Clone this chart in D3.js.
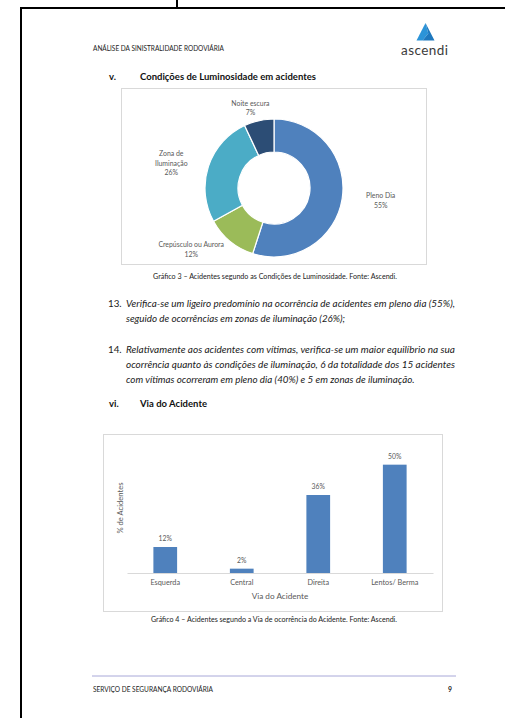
<!DOCTYPE html>
<html>
<head>
<meta charset="utf-8">
<script src="https://cdn.jsdelivr.net/npm/d3@7"></script>
<style>
  body { margin: 0; background: #fff; }
  svg { display: block; font-family: Lato, "Open Sans", sans-serif; }
</style>
</head>
<body>
<svg id="page"></svg>
<script>
// dados do gráfico 3 (luminosidade)
const pieLabels = ["Pleno Dia", "Crepúsculo ou Aurora", "Zona de Iluminação", "Noite escura"];
const pieValues = [55, 12, 26, 7];
const pieColors = ["#4F81BD", "#9BBB59", "#4BACC6", "#2C4D75"];
const pieLines = [["Pleno Dia", "55%"], ["Crepúsculo ou Aurora", "12%"], ["Zona de", "Iluminação", "26%"], ["Noite escura", "7%"]];

// dados do gráfico 4 (via do acidente)
const viaCategories = ["Esquerda", "Central", "Direita", "Lentos/ Berma"];
const viaValues = [12, 2, 36, 50];

const para13 = [
    "Verifica-se um ligeiro predomínio na ocorrência de acidentes em pleno dia (55%),",
    "seguido de ocorrências em zonas de iluminação (26%);"
];
const para14 = [
    "Relativamente aos acidentes com vítimas, verifica-se um maior equilíbrio na sua",
    "ocorrência quanto às condições de iluminação, 6 da totalidade dos 15 acidentes",
    "com vítimas ocorreram em pleno dia (40%) e 5 em zonas de iluminação."
];

const svg = d3.select('#page').attr('width', 505).attr('height', 718);

// moldura da página
svg.append('path')
    .attr('d', 'M177,0 V8 M505,8 H21 V718')
    .attr('fill', 'none')
    .attr('stroke', '#000')
    .attr('stroke-width', 2);

// texto pequeno com largura fixa (cabeçalho, legendas, rodapé)
function smallText(t, x, y, w, size, anchor) {
    return svg.append('text')
        .attr('x', x).attr('y', y)
        .attr('text-anchor', anchor || 'start')
        .attr('font-size', size).attr('fill', '#222')
        .attr('textLength', w).attr('lengthAdjust', 'spacingAndGlyphs')
        .text(t);
}

// cabeçalho
smallText('ANÁLISE DA SINISTRALIDADE RODOVIÁRIA', 93, 50.5, 131, 6.6);

const logo = svg.append('g');
logo.append('path').attr('d', 'M425.5,23 L416.5,40.5 L422.5,40.5 L428.3,33.5 Z').attr('fill', '#2C94D8');
logo.append('path').attr('d', 'M425.5,23 L428.3,33.5 L422.5,40.5 L434.5,40.5 Z').attr('fill', '#1E78BE');
logo.append('text')
    .attr('x', 401).attr('y', 55)
    .attr('font-size', 13.5).attr('fill', '#3B3B3B')
    .attr('textLength', 47)
    .text('ascendi');

// títulos de secção
function heading(num, title, y, w) {
    svg.append('text').attr('x', 109).attr('y', y)
        .attr('font-size', 9.5).attr('font-weight', 'bold').attr('fill', '#111')
        .text(num);
    svg.append('text').attr('x', 140).attr('y', y)
        .attr('font-size', 9.5).attr('font-weight', 'bold').attr('fill', '#111')
        .attr('textLength', w)
        .text(title);
}
heading('v.', 'Condições de Luminosidade em acidentes', 80, 176);
heading('vi.', 'Via do Acidente', 407, 67);

// ---------- Gráfico 3: donut ----------
svg.append('rect')
    .attr('x', 121.5).attr('y', 88.5).attr('width', 305).attr('height', 176)
    .attr('fill', '#fff').attr('stroke', '#D9D9D9');

const cx = 274, cy = 188, outerR = 69, innerR = 36;
const pieData = d3.pie().sort(null).value(d => d)(pieValues);
const arc = d3.arc().innerRadius(innerR).outerRadius(outerR);

const donut = svg.append('g').attr('transform', `translate(${cx}, ${cy})`);
donut.selectAll('path')
    .data(pieData)
    .enter()
    .append('path')
    .attr('d', arc)
    .attr('fill', (d, i) => pieColors[i])
    .attr('stroke', '#fff')
    .attr('stroke-width', 1.2);

// rótulos fora da coroa, numa elipse à volta do centro;
// se o rótulo tocar na coroa, é empurrado (para o lado ou para cima/baixo)
const labelRx = 108, labelRy = 80;
donut.selectAll('g.lbl')
    .data(pieData)
    .enter()
    .append('g')
    .attr('class', 'lbl')
    .each(function (d, i) {
        const a = (d.startAngle + d.endAngle) / 2;
        const x = labelRx * Math.sin(a);
        const y = -labelRy * Math.cos(a);
        const lines = pieLines[i];
        const lh = 9.5;
        const g = d3.select(this);
        g.selectAll('text')
            .data(lines)
            .enter()
            .append('text')
            .attr('x', x)
            .attr('y', (t, j) => y + (j - (lines.length - 1) / 2) * lh + 2.4)
            .attr('text-anchor', 'middle')
            .attr('font-size', 6.9)
            .attr('fill', '#595959')
            .text(t => t);

        const b = this.getBBox();
        const side = Math.abs(Math.sin(a)) > 0.5;
        const sx = side ? (Math.sin(a) >= 0 ? 1 : -1) : 0;
        const sy = side ? 0 : (Math.cos(a) >= 0 ? -1 : 1);
        let dx = 0, dy = 0;
        for (let k = 0; k < 60; k++) {
            const nx = Math.max(b.x + dx, Math.min(0, b.x + dx + b.width));
            const ny = Math.max(b.y + dy, Math.min(0, b.y + dy + b.height));
            if (Math.hypot(nx, ny) >= outerR + 3) break;
            dx += sx; dy += sy;
        }
        g.attr('transform', `translate(${dx}, ${dy})`);
    });

smallText('Gráfico 3 – Acidentes segundo as Condições de Luminosidade. Fonte: Ascendi.', 275, 279, 244, 6.8, 'middle');

// ---------- parágrafos ----------
function paragraph(num, lines, y0, fullLines) {
    svg.append('text').attr('x', 108).attr('y', y0)
        .attr('font-size', 9.8).attr('fill', '#1a1a1a')
        .text(num);
    lines.forEach((t, i) => {
        const tx = svg.append('text')
            .attr('x', 126).attr('y', y0 + i * 14.8)
            .attr('font-size', 9.8).attr('font-style', 'italic').attr('fill', '#1a1a1a')
            .text(t);
        if (i < fullLines) tx.attr('textLength', 329).attr('lengthAdjust', 'spacingAndGlyphs');
    });
}
paragraph('13.', para13, 307, 1);
paragraph('14.', para14, 353, 2);

// ---------- Gráfico 4: barras ----------
svg.append('rect')
    .attr('x', 103.5).attr('y', 434.5).attr('width', 339).attr('height', 177)
    .attr('fill', '#fff').attr('stroke', '#D9D9D9');

const plot = { left: 127, right: 433, top: 443, bottom: 573 };

const xscale = d3.scaleBand()
    .domain(viaCategories)
    .range([plot.left, plot.right])
    .paddingInner(0.69)
    .paddingOuter(0.345);

const yscale = d3.scaleLinear()
    .domain([0, 60])
    .range([plot.bottom, plot.top]);

const chart = svg.append('g');

chart.selectAll('rect.bar')
    .data(viaValues)
    .enter()
    .append('rect')
    .attr('class', 'bar')
    .attr('x', (d, i) => xscale(viaCategories[i]))
    .attr('y', d => yscale(d))
    .attr('width', xscale.bandwidth())
    .attr('height', d => yscale(0) - yscale(d))
    .attr('fill', '#4F81BD');

chart.selectAll('text.val')
    .data(viaValues)
    .enter()
    .append('text')
    .attr('class', 'val')
    .attr('x', (d, i) => xscale(viaCategories[i]) + xscale.bandwidth() / 2)
    .attr('y', d => yscale(d) - 6)
    .attr('text-anchor', 'middle')
    .attr('font-size', 6.8)
    .attr('fill', '#595959')
    .text(d => d + '%');

const xaxis = d3.axisBottom(xscale).tickSize(0).tickPadding(7);
const xaxis_group = chart.append('g')
    .attr('transform', `translate(0, ${plot.bottom})`)
    .call(xaxis);
xaxis_group.select('.domain').attr('stroke', '#D9D9D9');
xaxis_group.selectAll('text')
    .attr('font-family', 'Lato, sans-serif')
    .attr('font-size', 7.3)
    .attr('fill', '#595959');

chart.append('text')
    .attr('x', (plot.left + plot.right) / 2).attr('y', 599)
    .attr('text-anchor', 'middle')
    .attr('font-size', 8.2).attr('fill', '#595959')
    .text('Via do Acidente');

chart.append('text')
    .attr('transform', 'translate(123, 508) rotate(-90)')
    .attr('text-anchor', 'middle')
    .attr('font-size', 7.6).attr('fill', '#595959')
    .text('% de Acidentes');

smallText('Gráfico 4 – Acidentes segundo a Via de ocorrência do Acidente. Fonte: Ascendi.', 274, 622, 246, 6.8, 'middle');

// rodapé
svg.append('line')
    .attr('x1', 92).attr('x2', 456).attr('y1', 676).attr('y2', 676)
    .attr('stroke', '#A8A8D8').attr('stroke-width', 1);
smallText('SERVIÇO DE SEGURANÇA RODOVIÁRIA', 93, 692, 120, 6.6);
svg.append('text')
    .attr('x', 452).attr('y', 692)
    .attr('text-anchor', 'end')
    .attr('font-size', 6.8).attr('font-weight', 'bold').attr('fill', '#222')
    .text('9');
</script>
</body>
</html>
